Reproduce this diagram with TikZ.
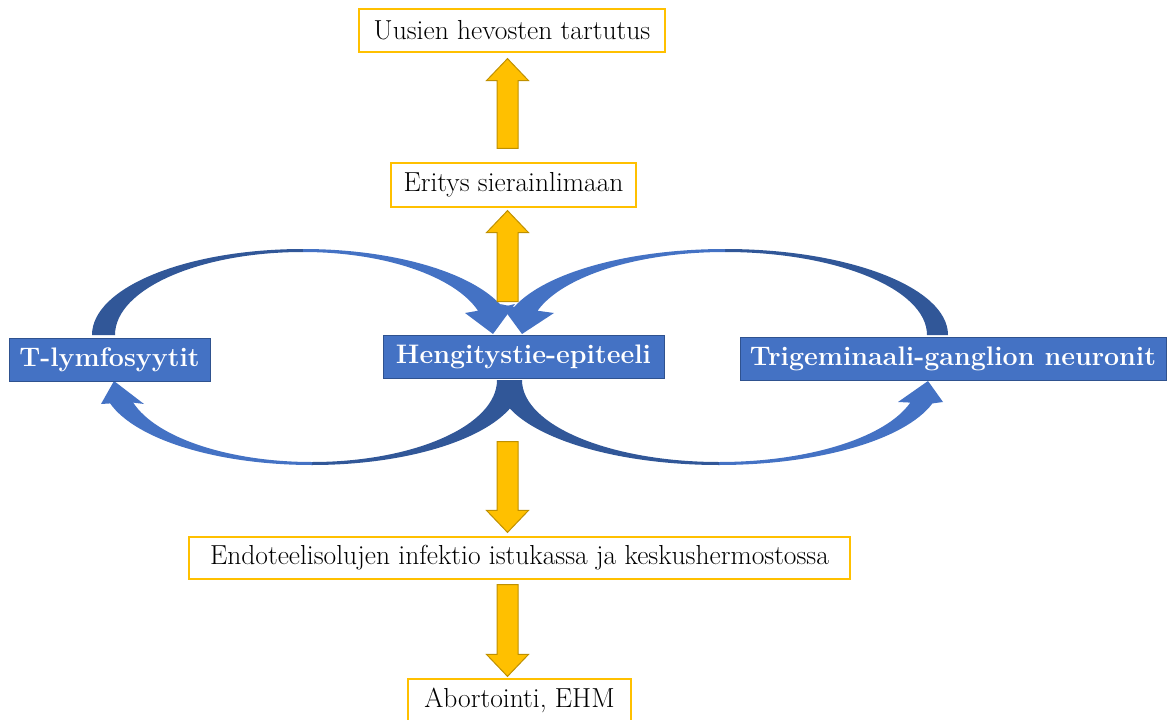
\documentclass[tikz,border=0pt]{standalone}
\usepackage{fontspec}
\usetikzlibrary{calc}

\definecolor{bluelight}{RGB}{68,114,196}
\definecolor{bluedark}{RGB}{49,87,152}
\definecolor{blueedge}{RGB}{47,82,143}
\definecolor{goldfill}{RGB}{255,192,0}
\definecolor{goldedge}{RGB}{191,144,0}

% block arrows, from shaft end (#1) to tip (#2)
\newcommand{\arrowup}[2]{%
  \draw[goldarrow] let \p1=(#1), \p2=(#2) in
    (\x1-10.5pt,\y1) -- (\x1-10.5pt,\y2-22pt) -- (\x1-21pt,\y2-22pt) -- (\x1,\y2)
    -- (\x1+21pt,\y2-22pt) -- (\x1+10.5pt,\y2-22pt) -- (\x1+10.5pt,\y1) -- cycle;}
\newcommand{\arrowdown}[2]{%
  \draw[goldarrow] let \p1=(#1), \p2=(#2) in
    (\x1-10.5pt,\y1) -- (\x1-10.5pt,\y2+22pt) -- (\x1-21pt,\y2+22pt) -- (\x1,\y2)
    -- (\x1+21pt,\y2+22pt) -- (\x1+10.5pt,\y2+22pt) -- (\x1+10.5pt,\y1) -- cycle;}

\begin{document}
\begin{tikzpicture}[x=1pt,y=-1pt,
  goldbox/.style={draw=goldfill, line width=1.2pt, fill=white, inner sep=0pt,
    minimum height=43pt, font=\fontsize{27.5}{32}\selectfont},
  bluebox/.style={draw=blueedge, line width=1pt, fill=bluelight, text=white, inner sep=0pt,
    minimum height=43pt, font=\fontsize{26.8}{32}\selectfont\bfseries},
  goldarrow/.style={fill=goldfill, draw=goldedge, line width=1pt},
  loopdark/.style={fill=bluedark},
  looplight/.style={fill=bluelight}]
  \useasboundingbox (0,0) rectangle (1168,720);

  % loop centres
  \coordinate (ul) at (303,335);
  \coordinate (ur) at (725,335);
  \coordinate (ll) at (312,380);
  \coordinate (lr) at (719,380);

  % T-lymfosyytit -> epiteeli
  \begin{scope}[shift={(ul)}]
    \fill[loopdark] (180:211pt and 86pt) arc[start angle=180,end angle=90,x radius=211pt,y radius=86pt]
      -- (90:188pt and 83pt) arc[start angle=90,end angle=180,x radius=188pt,y radius=83pt] -- cycle;
    \fill[looplight] (90:211pt and 86pt) arc[start angle=90,end angle=19,x radius=211pt,y radius=86pt]
      -- (212,-31) -- (190,-1) -- (162,-22)
      -- (17:183pt and 83pt) arc[start angle=17,end angle=90,x radius=183pt,y radius=83pt] -- cycle;
  \end{scope}
  % neuronit -> epiteeli
  \begin{scope}[shift={(ur)}]
    \fill[loopdark] (0:223pt and 86pt) arc[start angle=0,end angle=90,x radius=223pt,y radius=86pt]
      -- (90:202pt and 83pt) arc[start angle=90,end angle=0,x radius=202pt,y radius=83pt] -- cycle;
    \fill[looplight] (90:223pt and 86pt) arc[start angle=90,end angle=161,x radius=223pt,y radius=86pt]
      -- (-225,-31) -- (-203,-1) -- (-171,-22)
      -- (163:196pt and 83pt) arc[start angle=163,end angle=90,x radius=196pt,y radius=83pt] -- cycle;
  \end{scope}
  % epiteeli -> T-lymfosyytit
  \begin{scope}[shift={(ll)}]
    \fill[loopdark] (0:210pt and 85pt) arc[start angle=0,end angle=-90,x radius=210pt,y radius=85pt]
      -- (-90:185pt and 82pt) arc[start angle=-90,end angle=0,x radius=185pt,y radius=82pt] -- cycle;
    \fill[looplight] (-90:210pt and 85pt) arc[start angle=-90,end angle=-164,x radius=210pt,y radius=85pt]
      -- (-211,24) -- (-198,1) -- (-168,24)
      -- (-164:186pt and 82pt) arc[start angle=-164,end angle=-90,x radius=186pt,y radius=82pt] -- cycle;
  \end{scope}
  % epiteeli -> neuronit
  \begin{scope}[shift={(lr)}]
    \fill[loopdark] (180:222pt and 85pt) arc[start angle=180,end angle=270,x radius=222pt,y radius=85pt]
      -- (270:197pt and 82pt) arc[start angle=270,end angle=180,x radius=197pt,y radius=82pt] -- cycle;
    \fill[looplight] (270:222pt and 85pt) arc[start angle=270,end angle=344,x radius=222pt,y radius=85pt]
      -- (224,22) -- (209,1) -- (179,22)
      -- (344:199pt and 82pt) arc[start angle=344,end angle=270,x radius=199pt,y radius=82pt] -- cycle;
  \end{scope}

  \node[goldbox, minimum width=306pt] (uusien) at (512,30.5) {Uusien hevosten tartutus};
  \node[goldbox, minimum width=245pt, minimum height=44pt] (eritys) at (513.5,185) {Eritys sierainlimaan};
  \node[bluebox, minimum width=201pt] (tlymf) at (109.5,359.5) {T-lymfosyytit};
  \node[bluebox, minimum width=281pt] (epiteeli) at (523.5,356.5) {Hengitystie-epiteeli};
  \node[bluebox, minimum width=426pt] (neuronit) at (953,359) {Trigeminaali-ganglion neuronit};
  \node[goldbox, minimum width=661pt, minimum height=42pt] (endoteeli) at (519.5,558) {Endoteelisolujen infektio istukassa ja keskushermostossa};
  \node[goldbox, minimum width=223pt] (abortointi) at (519.5,700.5) {Abortointi, EHM};

  \coordinate (spine) at (507.5,0);
  \arrowup{$(spine |- eritys.north)+(0,-14)$}{$(spine |- uusien.south)+(0,6)$}
  \arrowup{$(spine |- epiteeli.north)+(0,-33)$}{$(spine |- eritys.south)+(0,3)$}
  \arrowdown{$(spine |- epiteeli.south)+(0,63)$}{$(spine |- endoteeli.north)+(0,-4)$}
  \arrowdown{$(spine |- endoteeli.south)+(0,5)$}{$(spine |- abortointi.north)+(0,-2)$}
\end{tikzpicture}
\end{document}
